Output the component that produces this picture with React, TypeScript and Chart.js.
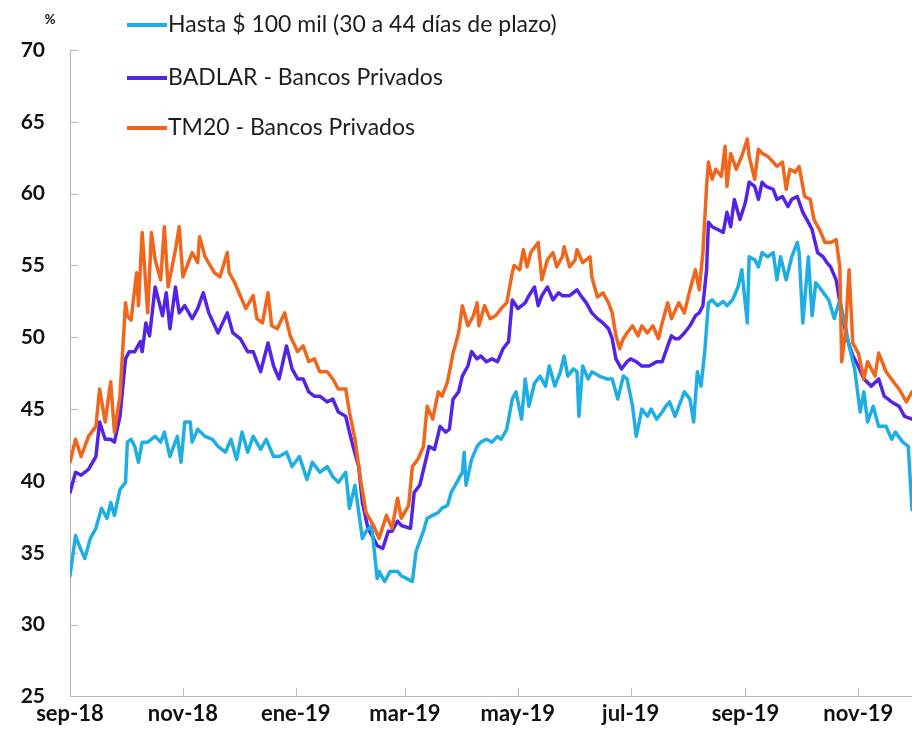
import React, { useEffect, useRef } from "react";
import { Chart, registerables } from "chart.js";

Chart.register(...registerables);

// x positions are days counted from 1 Sep 2018
const monthTickDays = [0, 61, 122, 181, 242, 303, 365, 426];
const monthTickLabels = ["sep-18", "nov-18", "ene-19", "mar-19", "may-19", "jul-19", "sep-19", "nov-19"];

const seriesLabels = [
  "Hasta $ 100 mil (30 a 44 días de plazo)",
  "BADLAR - Bancos Privados",
  "TM20 - Bancos Privados",
];
const seriesColors = ["#1eaee3", "#5424e6", "#f0661c"];

const hastaDays = [
  0, 3, 5, 8, 11, 14, 17, 20, 22, 24, 27, 30, 31, 33, 35, 37, 39, 42, 46, 49, 51, 54, 58, 60, 62, 65, 66, 69, 73, 77, 80,
  84, 87, 90, 93, 96, 99, 103, 106, 110, 113, 117, 120, 124, 128, 131, 135, 139, 142, 145, 149, 151, 154, 158, 160, 163, 166,
  167, 170, 173, 177, 179, 182, 185, 187, 191, 193, 196, 199, 201, 204, 206, 209, 212, 213, 214, 217, 220, 222, 225, 228, 231,
  233, 236, 239, 241, 244, 246, 248, 251, 254, 257, 259, 262, 265, 267, 269, 272, 274, 275, 277, 280, 282, 286, 290, 293, 296,
  299, 301, 304, 306, 309, 312, 314, 317, 320, 322, 324, 327, 329, 332, 335, 337, 339, 341, 343, 345, 347, 350, 353, 355, 358,
  361, 363, 366, 367, 370, 372, 374, 377, 380, 382, 384, 387, 390, 393, 394, 396, 399, 401, 403, 406, 410, 413, 416, 419, 421,
  424, 427, 429, 431, 434, 437, 441, 444, 446, 450, 453, 455,
];
const hastaValues = [
  33.4, 36.2, 35.5, 34.6, 36.0, 36.7, 38.1, 37.4, 38.5, 37.6, 39.4, 39.9, 42.7, 42.9, 42.4, 41.3, 42.7, 42.7, 43.1, 42.7, 43.4,
  41.7, 43.1, 41.3, 44.1, 44.1, 42.7, 43.6, 43.1, 42.9, 42.4,
  42.0, 42.9, 41.5, 43.4, 42.0, 43.1, 42.2, 42.9, 41.7, 41.7, 42.0, 41.0, 41.7, 40.1, 41.3, 40.6, 41.0, 40.3, 39.9, 40.6, 38.1,
  39.7, 36.0, 36.5, 36.9, 33.2,
  33.7, 33.0, 33.7, 33.7, 33.4, 33.2, 33.0, 35.1, 36.5, 37.4, 37.6, 37.8, 38.1, 38.3, 39.2, 39.9, 40.6, 42.0, 39.7, 41.5, 42.4,
  42.7, 42.9, 42.7, 43.1,
  42.9, 43.6, 45.7, 46.2, 44.3, 47.1, 45.2, 46.8, 47.3, 46.6, 48.0, 46.6, 47.6, 48.7, 47.3, 47.8, 47.6, 44.5, 48.0, 47.1, 47.6,
  47.3, 47.1, 47.1, 45.7,
  47.3, 47.1, 45.2, 43.1, 45.0, 44.5, 45.0, 44.3, 44.8, 45.2, 45.5, 44.5, 45.2, 46.2, 45.7, 44.1, 47.6, 46.6, 49.0, 52.4, 52.6,
  52.2, 52.5, 52.2, 52.6,
  53.5, 54.7, 51.0, 55.6, 55.4, 54.9, 55.9, 55.6, 55.9, 54.0, 55.6, 54.0, 55.6, 56.6, 55.9, 51.0, 55.6, 51.5, 53.8, 53.3, 52.6,
  51.3, 52.6, 50.8, 49.4,
  47.8, 44.8, 46.2, 44.1, 45.2, 43.8, 43.8, 42.9, 43.4, 42.7, 42.4, 38.0,
];

const badlarDays = [
  0, 3, 6, 10, 14, 16, 19, 22, 24, 27, 30, 32, 35, 38, 39, 41, 43, 46, 50, 52, 54, 57, 59, 62, 66, 69, 72, 75, 80,
  85, 88, 92, 96, 99, 103, 107, 110, 113, 117, 120, 123, 126, 129, 132, 135, 139, 142, 145, 149, 151, 153, 156, 158, 161, 164,
  166, 169, 172, 174, 177, 179, 184, 186, 189, 192, 194, 197, 200, 203, 205, 207, 210, 212, 215, 217, 220, 222, 225, 228, 231,
  234, 237, 239, 242, 246, 248, 251, 253, 255, 258, 261, 264, 266, 270, 274, 276, 279, 282, 285, 288, 291, 293, 295, 298, 301,
  303, 306, 309, 313, 317, 320, 323, 325, 327, 329, 332, 335, 338, 340, 342, 344, 345, 347, 350, 353, 355, 357, 359, 362, 365,
  367, 370, 372, 374, 376, 380, 382, 385, 388, 390, 393, 396, 399, 401, 404, 407, 409, 411, 414, 417, 420, 423, 426, 429, 433,
  437, 440, 444, 448, 451, 455,
];
const badlarValues = [
  39.2, 40.6, 40.4, 40.8, 41.7, 44.1, 42.9, 42.9, 42.7, 44.5, 48.5, 49.0, 49.0, 49.7, 49.0, 51.0, 50.1, 53.5, 51.5, 53.1, 50.6,
  53.5, 51.7, 52.2, 51.3, 52.0, 53.1, 51.7, 50.3,
  51.7, 50.3, 49.9, 49.0, 49.0, 47.6, 49.6, 48.0, 47.1, 49.4, 47.8, 47.1, 47.1, 46.2, 45.9, 45.9, 45.5, 45.7, 44.8, 44.5, 43.4,
  42.4, 41.0, 38.5, 36.7, 36.0,
  35.5, 35.3, 36.5, 36.5, 37.2, 36.9, 36.7, 39.2, 39.7, 41.3, 42.4, 42.2, 43.8, 43.4, 43.6, 45.7, 46.2, 47.3, 48.0, 49.0, 48.5,
  48.7, 48.3, 48.5, 48.3,
  49.2, 49.7, 52.6, 52.0, 52.4, 52.9, 53.5, 52.2, 52.9, 53.5, 52.6, 53.1, 52.9, 52.9, 53.3, 52.9, 52.4, 51.7, 51.3, 51.0, 50.6,
  49.9, 48.5, 47.8, 48.3,
  48.5, 48.3, 48.0, 48.0, 48.3, 48.3, 49.4, 50.1, 49.9, 49.9, 50.3, 50.8, 51.5, 51.7, 52.2, 54.7, 58.0, 57.7, 57.5, 57.3, 58.7,
  57.7, 59.6, 58.2, 59.4,
  60.8, 60.5, 59.6, 60.8, 60.5, 60.3, 59.6, 59.8, 59.1, 59.6, 59.8, 58.7, 58.0, 57.5, 55.9, 55.6, 55.2, 54.9, 54.0, 51.7, 49.9,
  48.7, 48.0, 47.1, 46.6,
  47.1, 45.9, 45.5, 45.2, 44.5, 44.3,
];

const tm20Days = [
  0, 3, 6, 10, 14, 16, 19, 22, 24, 27, 30, 31, 33, 36, 37, 39, 42, 44, 46, 49, 51, 53, 57, 59, 61, 66, 69, 70, 73, 78,
  81, 85, 86, 89, 92, 95, 99, 101, 104, 107, 109, 112, 116, 119, 123, 126, 129, 132, 135, 139, 142, 145, 149, 151, 154, 157,
  160, 164, 167, 171, 174, 177, 179, 183, 185, 188, 191, 193, 196, 199, 201, 204, 207, 210, 212, 215, 218, 220, 221, 224, 227,
  230, 233, 236, 239, 240, 243, 245, 247, 249, 253, 255, 258, 261, 263, 266, 267, 270, 273, 274, 277, 281, 282, 285, 288, 291,
  293, 295, 297, 299, 301, 304, 307, 309, 312, 315, 318, 320, 323, 325, 329, 332, 335, 338, 340, 342, 344, 345, 347, 349, 352,
  354, 355, 357, 360, 363, 366, 367, 370, 372, 374, 377, 380, 382, 385, 387, 389, 392, 394, 397, 400, 402, 405, 408, 411, 414,
  416, 417, 419, 421, 423, 426, 429, 431, 435, 437, 441, 445, 448, 452, 455,
];
const tm20Values = [
  41.3, 42.9, 41.7, 43.1, 43.8, 46.4, 44.1, 46.9, 43.4, 45.9, 52.4, 51.5, 51.2, 54.5, 52.2, 57.3, 51.7, 57.3, 55.4, 54.0, 57.7,
  53.5, 56.1, 57.7, 54.2, 55.9, 55.2, 57.0, 55.6, 54.5,
  54.2, 55.9, 54.5, 53.8, 52.9, 52.0, 52.9, 51.3, 51.0, 53.1, 50.8, 50.6, 51.7, 50.1, 49.0, 49.4, 48.3, 48.5, 47.6, 47.6, 47.1,
  46.4, 46.4, 44.8, 42.9, 40.1,
  37.8, 36.9, 36.0, 37.6, 36.7, 38.8, 37.4, 38.3, 41.0, 41.5, 42.4, 45.2, 44.3, 46.2, 45.9, 46.9, 48.9, 50.3, 52.2, 50.8, 51.5,
  52.4, 50.8, 52.2, 51.3,
  51.5, 52.0, 52.4, 54.5, 55.0, 54.7, 56.1, 54.9, 55.9, 56.6, 54.0, 55.4, 55.9, 54.9, 55.6, 56.3, 54.9, 55.4, 56.1, 55.2, 55.6,
  54.2, 52.8, 53.1, 52.4,
  51.7, 50.1, 49.2, 49.9, 50.3, 50.8, 50.1, 50.8, 50.3, 50.8, 49.9, 51.0, 52.4, 51.3, 52.4, 51.7, 53.3, 54.7, 53.3, 55.9, 60.5,
  62.2, 61.0, 61.7, 61.2,
  63.3, 60.5, 62.8, 61.7, 62.6, 63.8, 62.6, 61.0, 63.1, 62.8, 62.6, 62.2, 61.9, 62.2, 60.3, 61.7, 61.5, 61.9, 59.8, 59.6, 58.2,
  57.5, 56.6, 56.6, 56.8,
  54.9, 48.3, 50.3, 54.7, 49.6, 48.9, 47.1, 48.3, 47.3, 48.9, 47.6, 46.9, 46.4, 45.5, 46.2,
];

const toPoints = (days: number[], values: number[]) => days.map((d, i) => ({ x: d, y: values[i] }));

const innerTicksPlugin = {
  id: "innerTicks",
  beforeDatasetsDraw(chart: any) {
    const { ctx, chartArea } = chart;
    const xs = chart.scales.x;
    const ys = chart.scales.y;
    ctx.save();
    ctx.strokeStyle = "#b5b5b5";
    ctx.lineWidth = 1;
    ys.ticks.forEach((t: any) => {
      const py = Math.round(ys.getPixelForValue(t.value)) + 0.5;
      ctx.beginPath();
      ctx.moveTo(chartArea.left, py);
      ctx.lineTo(chartArea.left + 8, py);
      ctx.stroke();
    });
    xs.ticks.forEach((t: any) => {
      const px = Math.round(xs.getPixelForValue(t.value)) + 0.5;
      ctx.beginPath();
      ctx.moveTo(px, chartArea.bottom);
      ctx.lineTo(px, chartArea.bottom - 8);
      ctx.stroke();
    });
    ctx.restore();
  },
};

const legendPlugin = {
  id: "sideLegend",
  afterDraw(chart: any) {
    const { ctx } = chart;
    const rowsY = [25, 78, 128];
    ctx.save();
    ctx.font = "23px Lato";
    ctx.textBaseline = "middle";
    ctx.textAlign = "left";
    seriesLabels.forEach((label, i) => {
      ctx.strokeStyle = seriesColors[i];
      ctx.lineWidth = 4;
      ctx.beginPath();
      ctx.moveTo(127, rowsY[i]);
      ctx.lineTo(167, rowsY[i]);
      ctx.stroke();
      ctx.fillStyle = "#1e1e1e";
      ctx.fillText(label, 168, rowsY[i]);
    });
    ctx.font = "bold 13px Lato";
    ctx.fillStyle = "#111";
    ctx.textAlign = "center";
    ctx.fillText("%", 50, 20);
    ctx.restore();
  },
};

export default function App() {
  const canvasRef = useRef<HTMLCanvasElement | null>(null);

  useEffect(() => {
    if (!canvasRef.current) return;
    const lineDs = (i: number, days: number[], values: number[], order: number) => ({
      label: seriesLabels[i],
      data: toPoints(days, values),
      borderColor: seriesColors[i],
      backgroundColor: seriesColors[i],
      borderWidth: 3.5,
      pointRadius: 0,
      tension: 0,
      order,
    });
    const chart = new Chart(canvasRef.current, {
      type: "line",
      data: {
        datasets: [
          lineDs(0, hastaDays, hastaValues, 1),
          lineDs(1, badlarDays, badlarValues, 2),
          lineDs(2, tm20Days, tm20Values, 0),
        ],
      },
      options: {
        responsive: false,
        animation: false,
        devicePixelRatio: 1,
        layout: { padding: { top: 50, left: 0, right: 0, bottom: 0 } },
        plugins: { legend: { display: false }, tooltip: { enabled: false } },
        elements: { line: { borderJoinStyle: "round", borderCapStyle: "round" } },
        scales: {
          x: {
            type: "linear",
            min: 0,
            max: 455,
            grid: { display: false, drawTicks: false },
            border: { display: true, color: "#b5b5b5", width: 1 },
            afterBuildTicks: (scale: any) => {
              scale.ticks = monthTickDays.map((v) => ({ value: v }));
            },
            afterFit: (scale: any) => {
              scale.height = 36;
            },
            ticks: {
              autoSkip: false,
              maxRotation: 0,
              padding: 4,
              color: "#111",
              font: { family: "Lato", size: 22, weight: "bold" },
              callback: (value: any) => {
                const idx = monthTickDays.indexOf(Number(value));
                return idx >= 0 ? monthTickLabels[idx] : "";
              },
            },
          },
          y: {
            type: "linear",
            min: 25,
            max: 70,
            grid: { display: false, drawTicks: false },
            border: { display: true, color: "#b5b5b5", width: 1 },
            afterFit: (scale: any) => {
              scale.width = 70;
            },
            ticks: {
              stepSize: 5,
              padding: 25,
              color: "#111",
              font: { family: "Lato", size: 21, weight: "bold" },
            },
          },
        },
      },
      plugins: [innerTicksPlugin, legendPlugin],
    });
    return () => chart.destroy();
  }, []);

  return (
    <div style={{ position: "absolute", left: 0, top: 0, width: 912, height: 734, background: "#fff" }}>
      <canvas ref={canvasRef} width={912} height={734} style={{ width: 912, height: 734 }} />
    </div>
  );
}
